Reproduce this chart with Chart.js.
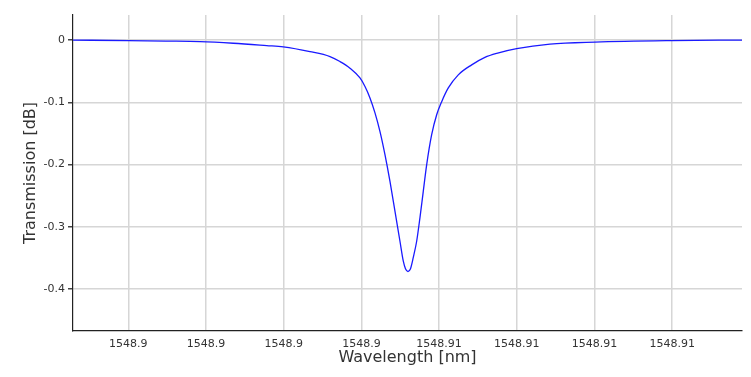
<!DOCTYPE html>
<html>
<head>
<meta charset="utf-8">
<script src="https://cdn.jsdelivr.net/npm/chart.js@4/dist/chart.umd.min.js"></script>
<style>
html,body{margin:0;padding:0;background:#fff;}
#wrap{width:751px;height:377px;position:relative;}
</style>
</head>
<body>
<div id="wrap"><canvas id="c" width="751" height="377"></canvas></div>
<script>
const wavelength = [
  1548.896577, 1548.898000, 1548.898970, 1548.899846, 1548.900703, 1548.901562,
  1548.901990, 1548.902677, 1548.903192, 1548.903449, 1548.903707, 1548.903964,
  1548.904093, 1548.904221, 1548.904350, 1548.904479, 1548.904607, 1548.904736,
  1548.904865, 1548.904993, 1548.905079, 1548.905135, 1548.905199, 1548.905264,
  1548.905336, 1548.905423, 1548.905508, 1548.905593, 1548.905681, 1548.905809,
  1548.905938, 1548.906067, 1548.906237, 1548.906494, 1548.906839, 1548.907179,
  1548.907483, 1548.907997, 1548.908854, 1548.910013, 1548.911987, 1548.913797
];
// Transmission [dB]
const transmission = [
  -0.0003, -0.0010, -0.0018, -0.0027, -0.0053, -0.0090,
  -0.0110, -0.0187, -0.0267, -0.0347, -0.0453, -0.0610,
  -0.0747, -0.0930, -0.1170, -0.1470, -0.1840, -0.2270,
  -0.2750, -0.3230, -0.3550, -0.3670, -0.3715, -0.3670,
  -0.3490, -0.3230, -0.2850, -0.2430, -0.2000, -0.1520,
  -0.1200, -0.0990, -0.0770, -0.0560, -0.0400, -0.0280,
  -0.0215, -0.0140, -0.0068, -0.0035, -0.0011, -0.0002
];
const xTicks = [1548.898, 1548.900, 1548.902, 1548.904, 1548.906, 1548.908, 1548.910, 1548.912];
const yTicks = [-0.4, -0.3, -0.2, -0.1, 0];
const xRange = [1548.896577, 1548.913797];
const yRange = [-0.467, 0.040];

const pts = wavelength.map((w, i) => ({x: w, y: transmission[i]}));
const FONT = "'DejaVu Sans', sans-serif";

new Chart(document.getElementById('c'), {
  type: 'line',
  data: {
    datasets: [{
      data: pts,
      borderColor: '#1a1aff',
      borderWidth: 1.3,
      pointRadius: 0,
      fill: false,
      cubicInterpolationMode: 'monotone'
    }]
  },
  options: {
    responsive: false,
    animation: false,
    layout: {padding: {left: 0, right: 9, top: 15, bottom: 0}},
    plugins: {legend: {display: false}, tooltip: {enabled: false}},
    scales: {
      x: {
        type: 'linear',
        min: xRange[0], max: xRange[1],
        afterBuildTicks: s => { s.ticks = xTicks.map(v => ({value: v})); },
        afterFit: s => { s.height = 46; },
        grid: {color: '#d6d6d6', lineWidth: 1.5, drawTicks: false},
        border: {color: '#222', width: 1.2},
        ticks: {
          color: '#333', font: {family: FONT, size: 11}, padding: 7, maxRotation: 0,
          callback: v => String(parseFloat(Number(v).toFixed(2)))
        },
        title: {display: true, text: 'Wavelength [nm]', color: '#333',
                font: {family: FONT, size: 16}, padding: {top: 0, bottom: 10}}
      },
      y: {
        type: 'linear',
        min: yRange[0], max: yRange[1],
        afterBuildTicks: s => { s.ticks = yTicks.map(v => ({value: v})); },
        afterFit: s => { s.width = 73; },
        grid: {color: '#d6d6d6', lineWidth: 1.5, tickColor: '#444', tickLength: 5},
        border: {color: '#222', width: 1.2},
        ticks: {
          color: '#333', font: {family: FONT, size: 11}, padding: 3,
          callback: v => String(parseFloat(Number(v).toFixed(1)))
        },
        title: {display: true, text: 'Transmission [dB]', color: '#333',
                font: {family: FONT, size: 16}, padding: {top: 21, bottom: 0}}
      }
    }
  }
});
</script>
</body>
</html>
